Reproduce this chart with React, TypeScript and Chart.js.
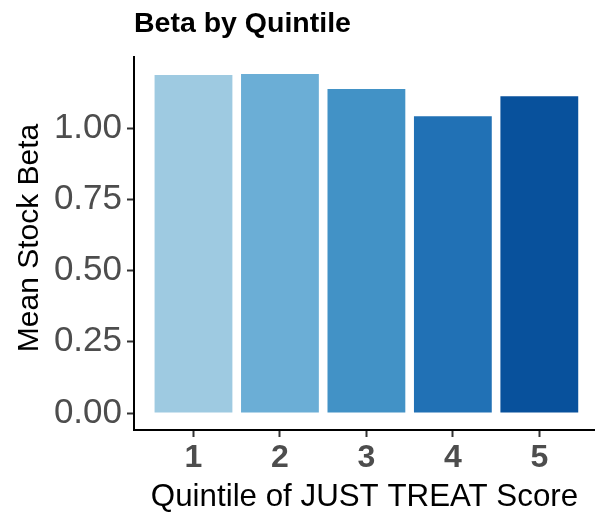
import React, { useEffect, useRef } from "react";
import { Chart, registerables } from "chart.js";

Chart.register(...registerables);

// ---- data ----
const quintiles = [1, 2, 3, 4, 5];
const quintileLabels = ["1", "2", "3", "4", "5"];
const meanBeta = [1.186, 1.19, 1.137, 1.042, 1.112];
const barColors = ["#9ECAE1", "#6BAED6", "#4292C6", "#2171B5", "#08519C"];
const yTickValues = [0, 0.25, 0.5, 0.75, 1.0];
const titleText = "Beta by Quintile";
const xTitleText = "Quintile of JUST TREAT Score";
const yTitleText = "Mean Stock Beta";

const FAMILY = "'Liberation Sans', Arial, Helvetica, sans-serif";

const textPlugin = {
  id: "titlesText",
  afterDraw(chart: any) {
    const ctx = chart.ctx as CanvasRenderingContext2D;
    const ca = chart.chartArea;
    const draw = (
      text: string,
      font: string,
      x: number,
      y: number,
      rot: number,
      align: CanvasTextAlign
    ) => {
      ctx.save();
      ctx.translate(x, y);
      if (rot) ctx.rotate(rot);
      ctx.font = font;
      ctx.fillStyle = "#000000";
      ctx.textAlign = align;
      ctx.textBaseline = "alphabetic";
      ctx.fillText(text, 0, 0);
      ctx.restore();
    };
    draw(titleText, `bold 28.5px ${FAMILY}`, 134, 32, 0, "left");
    draw(xTitleText, `31.3px ${FAMILY}`, (ca.left + ca.right) / 2, 506, 0, "center");
    draw(yTitleText, `30px ${FAMILY}`, 38, 238, -Math.PI / 2, "center");
  },
};

export default function App() {
  const ref = useRef<HTMLCanvasElement | null>(null);

  useEffect(() => {
    if (!ref.current) return;
    const chart = new Chart(ref.current, {
      type: "bar",
      data: {
        datasets: [
          {
            data: quintiles.map((q, i) => ({ x: q, y: meanBeta[i] })) as any,
            backgroundColor: barColors,
            borderWidth: 0,
            categoryPercentage: 0.9,
            barPercentage: 1,
          },
        ],
      },
      options: {
        animation: false,
        responsive: false,
        devicePixelRatio: 1,
        layout: { padding: { top: 57, right: 0, bottom: 0, left: 0 } },
        plugins: {
          legend: { display: false },
          tooltip: { enabled: false },
          title: { display: false },
        },
        scales: {
          x: {
            type: "linear",
            offset: false,
            min: 0.312,
            max: 5.644,
            afterBuildTicks: (s: any) => {
              s.ticks = quintiles.map((v) => ({ value: v }));
            },
            afterFit: (s: any) => {
              s.height = 82;
            },
            ticks: {
              callback: (v: any) => quintileLabels[quintiles.indexOf(Number(v))],
              font: { family: FAMILY, size: 32, weight: "bold" },
              color: "#4D4D4D",
              padding: 2,
              autoSkip: false,
              maxRotation: 0,
            },
            grid: {
              offset: false,
              drawOnChartArea: false,
              drawTicks: true,
              tickLength: 7,
              tickColor: "#333333",
              tickWidth: 2,
            },
            border: { display: true, color: "#000000", width: 2 },
          },
          y: {
            type: "linear",
            min: -0.0595,
            max: 1.2495,
            afterBuildTicks: (s: any) => {
              s.ticks = yTickValues.map((v) => ({ value: v }));
            },
            afterFit: (s: any) => {
              s.width = 134;
            },
            ticks: {
              callback: (v: any) => Number(v).toFixed(2),
              font: { family: FAMILY, size: 35 },
              color: "#4D4D4D",
              padding: 5,
            },
            grid: {
              drawOnChartArea: false,
              drawTicks: true,
              tickLength: 7,
              tickColor: "#333333",
              tickWidth: 2,
            },
            border: { display: true, color: "#000000", width: 2 },
          },
        },
      } as any,
      plugins: [textPlugin],
    });
    return () => chart.destroy();
  }, []);

  return (
    <div style={{ position: "absolute", left: 0, top: 0, width: 595, height: 512, background: "#fff" }}>
      <canvas ref={ref} width={595} height={512} style={{ display: "block" }} />
    </div>
  );
}
